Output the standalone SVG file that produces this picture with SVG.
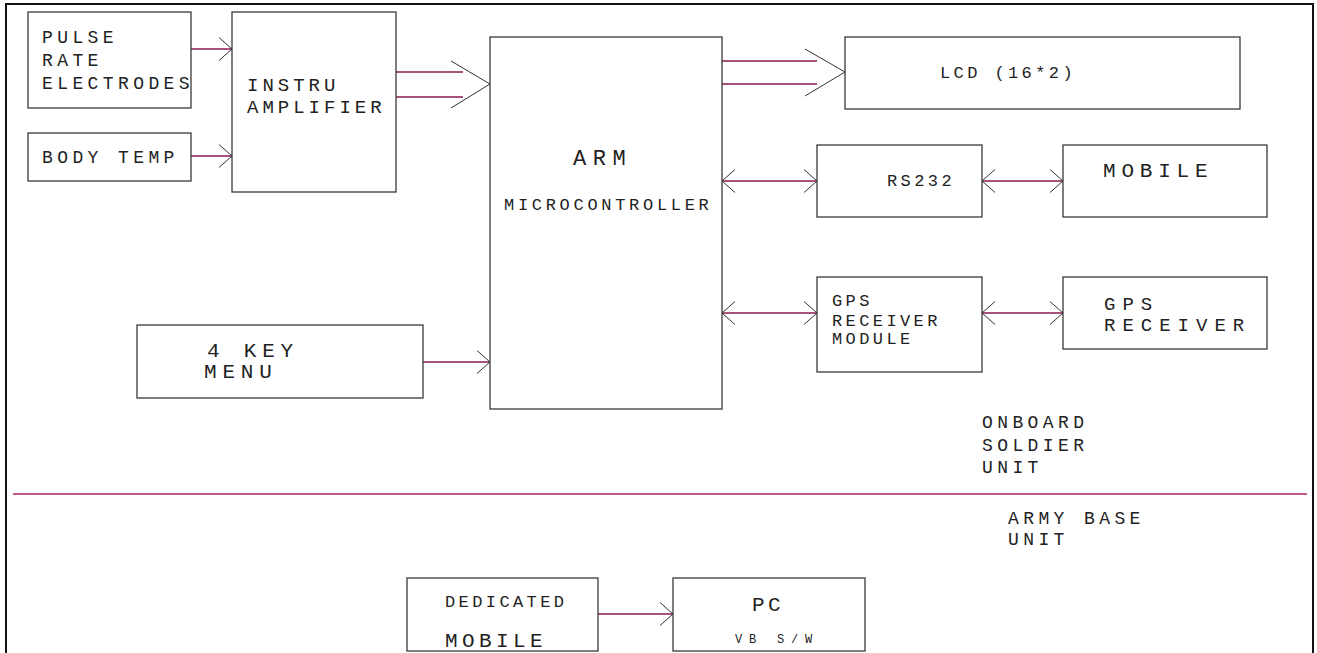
<svg xmlns="http://www.w3.org/2000/svg" width="1317" height="653" viewBox="0 0 1317 653">
<style>
.box{fill:#fff;stroke:#3a3a3a;stroke-width:1.3}
.wire{stroke:#8b1a4f;stroke-width:1.4;fill:none}
.chev{stroke:#333;stroke-width:1;fill:none}
text{font-family:"Liberation Mono","DejaVu Sans Mono",monospace;fill:#222}
.a{font-size:17px;letter-spacing:3.4px}
.b{font-size:18px;letter-spacing:4.4px}
.c{font-size:19px;letter-spacing:4px}
.d{font-size:21px;letter-spacing:5.8px}
.g{font-size:19px;letter-spacing:7px}
.d2{font-size:21px;letter-spacing:4.4px}
.e{font-size:22px;letter-spacing:6.5px}
.s{font-size:12px;letter-spacing:6.8px}
</style>
<defs>
<marker id="ah" markerUnits="userSpaceOnUse" markerWidth="16" markerHeight="26" viewBox="-14 -13 16 26" refX="0" refY="0" orient="auto-start-reverse">
<path d="M-13,-11.5 L0,0 L-13,11.5" fill="none" stroke="#333" stroke-width="1"/>
</marker>
</defs>
<rect width="1317" height="653" fill="#fff"/>
<g id="frame">
<path d="M6,660 V4 H1313 V660" fill="none" stroke="#111" stroke-width="2"/>
<line x1="13" y1="494" x2="1307" y2="494" stroke="#c05a8c" stroke-width="2"/>
</g>
<g id="connectors">
<line class="wire" x1="191" y1="49" x2="232" y2="49" marker-end="url(#ah)"/>
<line class="wire" x1="191" y1="156" x2="232" y2="156" marker-end="url(#ah)"/>
<line class="wire" x1="396" y1="72" x2="463" y2="72"/>
<line class="wire" x1="396" y1="97" x2="463" y2="97"/>
<polyline class="chev" points="451,61 490,84 451,108"/>
<line class="wire" x1="722" y1="61" x2="817" y2="61"/>
<line class="wire" x1="722" y1="84" x2="817" y2="84"/>
<polyline class="chev" points="805,49 845,72 805,96"/>
<line class="wire" x1="722" y1="181" x2="817" y2="181" marker-start="url(#ah)" marker-end="url(#ah)"/>
<line class="wire" x1="982" y1="181" x2="1063" y2="181" marker-start="url(#ah)" marker-end="url(#ah)"/>
<line class="wire" x1="722" y1="313" x2="817" y2="313" marker-start="url(#ah)" marker-end="url(#ah)"/>
<line class="wire" x1="982" y1="313" x2="1063" y2="313" marker-start="url(#ah)" marker-end="url(#ah)"/>
<line class="wire" x1="423" y1="362" x2="490" y2="362" marker-end="url(#ah)"/>
<line class="wire" x1="598" y1="614" x2="673" y2="614" marker-end="url(#ah)"/>
</g>
<g id="pulse">
<rect class="box" x="28" y="12" width="163" height="96"/>
<text class="b" x="42" y="43">PULSE</text>
<text class="b" x="42" y="66">RATE</text>
<text class="b" x="42" y="89">ELECTRODES</text>
</g>
<g id="bodytemp">
<rect class="box" x="28" y="133" width="163" height="48"/>
<text class="b" x="42" y="163">BODY TEMP</text>
</g>
<g id="instru">
<rect class="box" x="232" y="12" width="164" height="180"/>
<text class="c" x="247" y="91">INSTRU</text>
<text class="c" x="247" y="113">AMPLIFIER</text>
</g>
<g id="arm">
<rect class="box" x="490" y="37" width="232" height="372"/>
<text class="e" x="573" y="165">ARM</text>
<text class="a" x="504" y="210" style="letter-spacing:3.7px">MICROCONTROLLER</text>
</g>
<g id="lcd">
<rect class="box" x="845" y="37" width="395" height="72"/>
<text class="a" x="940" y="78">LCD (16*2)</text>
</g>
<g id="rs232">
<rect class="box" x="817" y="145" width="165" height="72"/>
<text class="a" x="887" y="186">RS232</text>
</g>
<g id="mobile">
<rect class="box" x="1063" y="145" width="204" height="72"/>
<text class="d" x="1103" y="177">MOBILE</text>
</g>
<g id="gpsmodule">
<rect class="box" x="817" y="277" width="165" height="95"/>
<text class="a" x="832" y="306">GPS</text>
<text class="a" x="832" y="326">RECEIVER</text>
<text class="a" x="832" y="344">MODULE</text>
</g>
<g id="gpsreceiver">
<rect class="box" x="1063" y="277" width="204" height="72"/>
<text class="g" x="1104" y="310">GPS</text>
<text class="g" x="1104" y="331">RECEIVER</text>
</g>
<g id="keymenu">
<rect class="box" x="137" y="325" width="286" height="73"/>
<text class="d" x="207" y="357">4 KEY</text>
<text class="d" x="204" y="378">MENU</text>
</g>
<g id="labels">
<text class="b" x="982" y="428">ONBOARD</text>
<text class="b" x="982" y="451">SOLDIER</text>
<text class="b" x="982" y="473">UNIT</text>
<text class="b" x="1008" y="524">ARMY BASE</text>
<text class="b" x="1008" y="545">UNIT</text>
</g>
<g id="dedicated">
<rect class="box" x="407" y="578" width="191" height="73"/>
<text class="a" x="445" y="607">DEDICATED</text>
<text class="d2" x="445" y="647">MOBILE</text>
</g>
<g id="pc">
<rect class="box" x="673" y="578" width="192" height="73"/>
<text class="d" x="752" y="611" style="letter-spacing:3.4px">PC</text>
<text class="s" x="735" y="643">VB S/W</text>
</g>
</svg>
